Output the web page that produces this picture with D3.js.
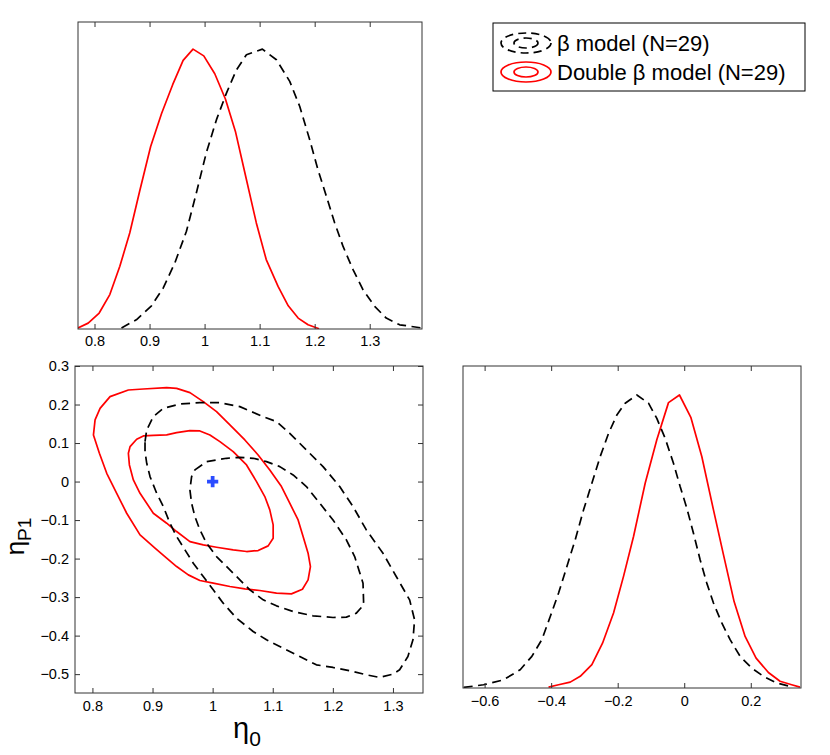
<!DOCTYPE html>
<html><head><meta charset="utf-8">
<script src="https://cdn.jsdelivr.net/npm/d3@7"></script>
<style>body{margin:0;background:#fff;} text{font-family:"Liberation Sans",Arial,sans-serif;}</style>
</head><body><svg id="c" width="830" height="755"></svg>
<script>
// ---- data ----
const eta0Ticks = [0.8, 0.9, 1.0, 1.1, 1.2, 1.3];
const etaP1Ticks = [0.3, 0.2, 0.1, 0, -0.1, -0.2, -0.3, -0.4, -0.5];
const etaP1XTicks = [-0.6, -0.4, -0.2, 0, 0.2];
const seriesNames = ["\u03b2 model (N=29)", "Double \u03b2 model (N=29)"];
const trueValue = [1.0, 0.0];

// marginal of eta0 (normalised), beta model (black dashed)
const eta0Beta = [[0.849,0.004],[0.876,0.033],[0.9035,0.083],[0.9247,0.146],[0.9459,0.236],[0.967,0.349],[0.985,0.486],[1.003,0.629],[1.0216,0.748],[1.0397,0.843],[1.0579,0.926],[1.076,0.980],[1.105,1.0],[1.1305,0.962],[1.1547,0.885],[1.1729,0.795],[1.191,0.676],[1.206,0.569],[1.2213,0.474],[1.2364,0.379],[1.2516,0.295],[1.2697,0.212],[1.2879,0.140],[1.309,0.081],[1.330,0.039],[1.3545,0.015],[1.394,0.004]];
// marginal of eta0, double beta model (red)
const eta0Double = [[0.770,0.004],[0.7885,0.021],[0.8085,0.057],[0.8278,0.123],[0.846,0.224],[0.864,0.343],[0.882,0.492],[0.902,0.652],[0.922,0.771],[0.942,0.873],[0.961,0.960],[0.979,1.0],[0.9985,0.976],[1.0185,0.912],[1.038,0.821],[1.056,0.706],[1.074,0.551],[1.094,0.379],[1.112,0.248],[1.1335,0.152],[1.152,0.083],[1.170,0.039],[1.188,0.015],[1.208,0.001]];
// marginal of etaP1, beta model
const etaP1Beta = [[-0.663,0.002],[-0.603,0.011],[-0.543,0.028],[-0.493,0.0625],[-0.458,0.108],[-0.428,0.165],[-0.4027,0.244],[-0.3777,0.324],[-0.3527,0.415],[-0.3277,0.506],[-0.3026,0.608],[-0.2776,0.699],[-0.2526,0.790],[-0.2275,0.869],[-0.2025,0.932],[-0.1775,0.972],[-0.1424,1.0],[-0.1074,0.972],[-0.0824,0.920],[-0.0573,0.852],[-0.0323,0.767],[-0.0123,0.6875],[0.0078,0.614],[0.0278,0.528],[0.0478,0.4375],[0.0678,0.358],[0.0879,0.290],[0.1129,0.222],[0.1379,0.165],[0.168,0.108],[0.203,0.068],[0.238,0.040],[0.278,0.017],[0.328,0.003]];
// marginal of etaP1, double beta model
const etaP1Double = [[-0.4078,0.003],[-0.3777,0.011],[-0.3427,0.020],[-0.3126,0.040],[-0.2776,0.080],[-0.2456,0.153],[-0.2125,0.256],[-0.1825,0.381],[-0.1524,0.517],[-0.1174,0.699],[-0.0824,0.847],[-0.0473,0.974],[-0.0143,1.0],[0.0198,0.924],[0.0528,0.790],[0.0879,0.608],[0.1179,0.455],[0.1499,0.295],[0.183,0.176],[0.216,0.102],[0.253,0.053],[0.288,0.023],[0.323,0.011],[0.348,0.003]];
// joint contours (eta0, etaP1)
const betaOuter = [[0.8875,0.1037],[0.8903,0.134],[0.9013,0.1685],[0.9179,0.1902],[0.9456,0.2014],[0.9788,0.2049],[1.0121,0.2049],[1.0453,0.1945],[1.0841,0.1685],[1.1062,0.1556],[1.1283,0.1253],[1.1560,0.082],[1.1837,0.0388],[1.2114,-0.0131],[1.2336,-0.065],[1.2557,-0.1255],[1.2834,-0.186],[1.3055,-0.2466],[1.3277,-0.3071],[1.3360,-0.359],[1.3333,-0.4109],[1.3249,-0.4542],[1.3111,-0.4888],[1.3000,-0.5],[1.2779,-0.5086],[1.2557,-0.5017],[1.2336,-0.4931],[1.2003,-0.4827],[1.1726,-0.4758],[1.1450,-0.4542],[1.1173,-0.4325],[1.0896,-0.4109],[1.0674,-0.3893],[1.0398,-0.3547],[1.0176,-0.3158],[1.0010,-0.2812],[0.9844,-0.2466],[0.9678,-0.212],[0.9539,-0.1774],[0.9401,-0.1428],[0.9290,-0.1082],[0.9179,-0.065],[0.9069,-0.0304],[0.8958,0.0129],[0.8903,0.0475],[0.8875,0.0777]];
const betaInner = [[0.9705,0.0302],[0.9899,0.0518],[1.0231,0.0604],[1.0453,0.063],[1.0674,0.0604],[1.0896,0.0518],[1.1117,0.0388],[1.1339,0.0172],[1.1560,-0.0131],[1.1782,-0.0563],[1.2003,-0.0996],[1.2225,-0.1515],[1.2363,-0.1947],[1.2502,-0.2639],[1.2513,-0.3201],[1.2391,-0.3417],[1.2225,-0.3521],[1.2003,-0.353],[1.1671,-0.3486],[1.1339,-0.3374],[1.1062,-0.3227],[1.0841,-0.3071],[1.0619,-0.2812],[1.0453,-0.2552],[1.0287,-0.2293],[1.0065,-0.1947],[0.9899,-0.1601],[0.9788,-0.1255],[0.9705,-0.0909],[0.9650,-0.0563],[0.9622,-0.0217],[0.9650,0.0129]];
const doubleOuter = [[0.8017,0.121],[0.8044,0.160],[0.8127,0.190],[0.8293,0.2204],[0.8598,0.2377],[0.8847,0.2403],[0.9235,0.2438],[0.9401,0.242],[0.9622,0.2308],[0.9844,0.2075],[1.0065,0.1815],[1.0287,0.147],[1.0536,0.108],[1.0757,0.069],[1.0951,0.030],[1.1145,-0.0131],[1.1283,-0.0563],[1.1422,-0.0996],[1.1505,-0.1428],[1.1588,-0.186],[1.1627,-0.2207],[1.1588,-0.2552],[1.1494,-0.2795],[1.1311,-0.2916],[1.1062,-0.2898],[1.0785,-0.2829],[1.0536,-0.2786],[1.0287,-0.2725],[1.0010,-0.2639],[0.9788,-0.257],[0.9595,-0.2423],[0.9401,-0.2207],[0.9235,-0.199],[0.9041,-0.173],[0.8792,-0.1385],[0.8570,-0.0823],[0.8404,-0.0304],[0.8238,0.0215],[0.8116,0.0734]];
const doubleInner = [[0.8626,0.0907],[0.8736,0.1097],[0.8847,0.1184],[0.9013,0.1201],[0.9235,0.121],[0.9401,0.127],[0.9622,0.1322],[0.9788,0.1314],[0.9955,0.121],[1.0121,0.1037],[1.0342,0.0777],[1.0564,0.0431],[1.0730,-0.0001],[1.0868,-0.039],[1.0951,-0.0736],[1.1007,-0.1125],[1.1007,-0.1471],[1.0924,-0.167],[1.0757,-0.1791],[1.0564,-0.1817],[1.0342,-0.1774],[1.0065,-0.1705],[0.9844,-0.1644],[0.9622,-0.1558],[0.9401,-0.1298],[0.9235,-0.1082],[0.9013,-0.0823],[0.8792,-0.0304],[0.8681,0.0042],[0.8615,0.0431],[0.8598,0.0734]];

// ---- drawing ----
const svg = d3.select("#c");
const DASH = "9,5.5";
const AX = "#333";
const TICKFONT = 14.5;
const fmt = v => (v < 0 ? "\u2212" : "") + (Math.abs(v) === 1 ? "1" : (v === 0 ? "0" : d3.format("")(Math.abs(v))));

function panel(left, top, w, h, xDom, yDom) {
  const g = svg.append("g").attr("transform", `translate(${left},${top})`);
  const x = d3.scaleLinear().domain(xDom).range([0, w]);
  const y = d3.scaleLinear().domain(yDom).range([h, 0]);
  const clipId = "clip" + Math.round(left) + "_" + Math.round(top);
  g.append("clipPath").attr("id", clipId).append("rect").attr("width", w).attr("height", h);
  const plot = g.append("g").attr("clip-path", `url(#${clipId})`);
  return {g, x, y, w, h, plot};
}
function xAxis(p, ticks, pad) {
  const ax = p.g.append("g").attr("transform", `translate(0,${p.h})`)
    .call(d3.axisBottom(p.x).tickValues(ticks).tickSize(-5).tickPadding(pad).tickFormat(fmt));
  ax.select(".domain").remove();
  ax.selectAll("line").attr("stroke", AX);
  ax.selectAll("text").attr("font-size", TICKFONT).attr("fill", "#000");
  const axt = p.g.append("g").call(d3.axisTop(p.x).tickValues(ticks).tickSize(-5).tickFormat(""));
  axt.select(".domain").remove(); axt.selectAll("line").attr("stroke", AX);
}
function yAxis(p, ticks) {
  const ay = p.g.append("g")
    .call(d3.axisLeft(p.y).tickValues(ticks).tickSize(-5).tickPadding(6).tickFormat(fmt));
  ay.select(".domain").remove();
  ay.selectAll("line").attr("stroke", AX);
  ay.selectAll("text").attr("font-size", TICKFONT).attr("fill", "#000");
  const ar = p.g.append("g").attr("transform", `translate(${p.w},0)`)
    .call(d3.axisRight(p.y).tickValues(ticks).tickSize(-5).tickFormat(""));
  ar.select(".domain").remove(); ar.selectAll("line").attr("stroke", AX);
}
function frame(p) {
  p.g.append("rect").attr("width", p.w).attr("height", p.h).attr("fill", "none").attr("stroke", AX).attr("stroke-width", 1);
}
function curve(p, data, color, dashed, closed) {
  const line = d3.line().x(d => p.x(d[0])).y(d => p.y(d[1]))
    .curve(closed ? d3.curveLinearClosed : d3.curveLinear);
  p.plot.append("path").attr("d", line(data)).attr("fill", "none")
    .attr("stroke", color).attr("stroke-width", 1.7)
    .attr("stroke-dasharray", dashed ? DASH : null).attr("stroke-linejoin", "round");
}

// top-left: eta0 marginal
const pA = panel(78, 22, 344, 307, [0.77, 1.395], [0, 1.097]);
curve(pA, eta0Double, "#ff0000", false, false);
curve(pA, eta0Beta, "#000", true, false);
xAxis(pA, eta0Ticks, 7);
frame(pA);

// bottom-left: joint
const pB = panel(75, 366, 348, 327, [0.771, 1.35], [-0.549, 0.3]);
curve(pB, doubleOuter, "#ff0000", false, true);
curve(pB, doubleInner, "#ff0000", false, true);
curve(pB, betaOuter, "#000", true, true);
curve(pB, betaInner, "#000", true, true);
pB.plot.append("path")
  .attr("d", d3.symbol().type(d3.symbolCross).size(70)())
  .attr("transform", `translate(${pB.x(trueValue[0])},${pB.y(trueValue[1])})`)
  .attr("fill", "#2b4cff");
xAxis(pB, eta0Ticks, 8);
yAxis(pB, etaP1Ticks);
frame(pB);
pB.g.append("text").attr("x", 172).attr("y", 372).attr("font-size", 29).attr("text-anchor", "middle")
  .html('\u03b7<tspan font-size="21" dy="8">0</tspan>');
pB.g.append("text").attr("transform", `translate(-51,${pB.h/2 + 7}) rotate(-90)`).attr("font-size", 26).attr("text-anchor", "middle")
  .html('\u03b7<tspan font-size="19" dy="7">P1</tspan>');

// bottom-right: etaP1 marginal
const pC = panel(463, 366, 338, 322, [-0.665, 0.351], [0, 1.099]);
curve(pC, etaP1Double, "#ff0000", false, false);
curve(pC, etaP1Beta, "#000", true, false);
xAxis(pC, etaP1XTicks, 8);
frame(pC);

// legend
const lg = svg.append("g").attr("transform", "translate(493,23)");
lg.append("rect").attr("width", 312).attr("height", 68).attr("fill", "#fff").attr("stroke", "#000").attr("stroke-width", 1);
const legendStyles = [{color: "#000", dashed: true}, {color: "#ff0000", dashed: false}];
seriesNames.forEach((name, i) => {
  const cy = 20 + i * 29;
  const st = legendStyles[i];
  [[25, 10], [12, 5]].forEach(r => {
    lg.append("ellipse").attr("cx", 33).attr("cy", cy).attr("rx", r[0]).attr("ry", r[1])
      .attr("fill", "none").attr("stroke", st.color).attr("stroke-width", 1.7)
      .attr("stroke-dasharray", st.dashed ? "8,5" : null);
  });
  lg.append("text").attr("x", 64).attr("y", cy + 8).attr("font-size", 22).text(name);
});
</script></body></html>
